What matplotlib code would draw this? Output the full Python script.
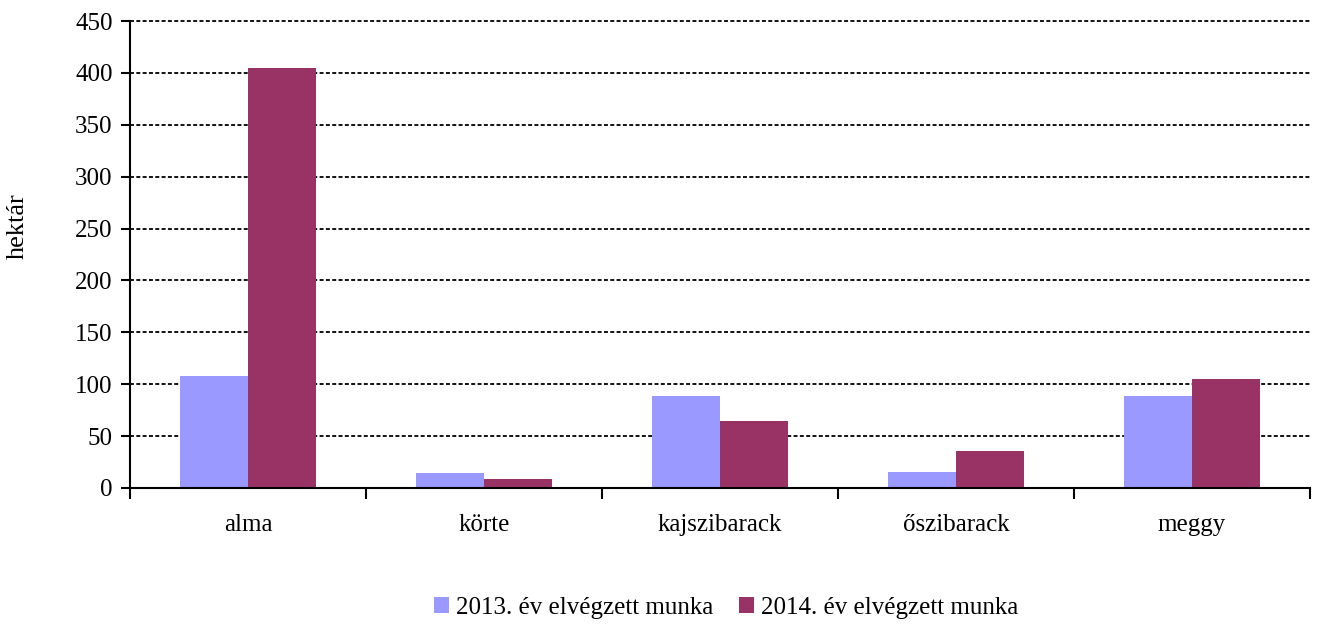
import matplotlib
matplotlib.use("Agg")
import matplotlib.pyplot as plt
import numpy as np

categories = ["alma", "körte", "kajszibarack", "őszibarack", "meggy"]
series_names = ["2013. év elvégzett munka", "2014. év elvégzett munka"]
values_2013 = [108, 14, 89, 15, 89]
values_2014 = [405, 9, 65, 36, 105]
yticks = [0, 50, 100, 150, 200, 250, 300, 350, 400, 450]

plt.rcParams['font.family'] = ['Liberation Serif', 'DejaVu Serif']

fig = plt.figure(figsize=(13.18, 6.24), dpi=100)
ax = fig.add_axes([130/1318, 1 - 488/624, (1310-130)/1318, (488-21)/624])

x = np.arange(len(categories))
w = 0.288
ax.bar(x - w/2, values_2013, width=w, color="#9999FF", label=series_names[0], zorder=3)
ax.bar(x + w/2, values_2014, width=w, color="#993366", label=series_names[1], zorder=3)

ax.set_xlim(-0.5, len(categories) - 0.5)
ax.set_ylim(0, 450)
ax.set_yticks(yticks)
ax.set_yticklabels([str(t) for t in yticks], fontsize=18)
ax.set_xticks(x)
ax.set_xticklabels(categories, fontsize=18)
ax.tick_params(axis='x', length=0, pad=19)
ax.set_xticks(np.arange(len(categories) + 1) - 0.5, minor=True)
ax.tick_params(axis='x', which='minor', length=8, width=1.5, direction='out')
ax.tick_params(axis='y', length=6.5, width=1.5, direction='out', pad=6)

ax.yaxis.grid(True, linestyle=(0, (2.2, 1.3)), color='black', linewidth=1.3, zorder=0)
for gl in ax.yaxis.get_gridlines():
    gl.set_clip_on(False)
for s in ['top', 'right']:
    ax.spines[s].set_visible(False)
ax.spines['left'].set_linewidth(1.5)
ax.spines['bottom'].set_linewidth(1.5)
ax.spines['bottom'].set_zorder(4)

fig.text(18/1318, 1 - 226/624, "hektár", rotation=90, fontsize=19, va='center', ha='center')

fig.legend(loc='center', bbox_to_anchor=(726/1318, 1 - 608/624), ncol=2, frameon=False,
           fontsize=18, handlelength=0.6, handleheight=0.6, handletextpad=0.3, columnspacing=1.0)

fig.savefig("out.png", dpi=100)
